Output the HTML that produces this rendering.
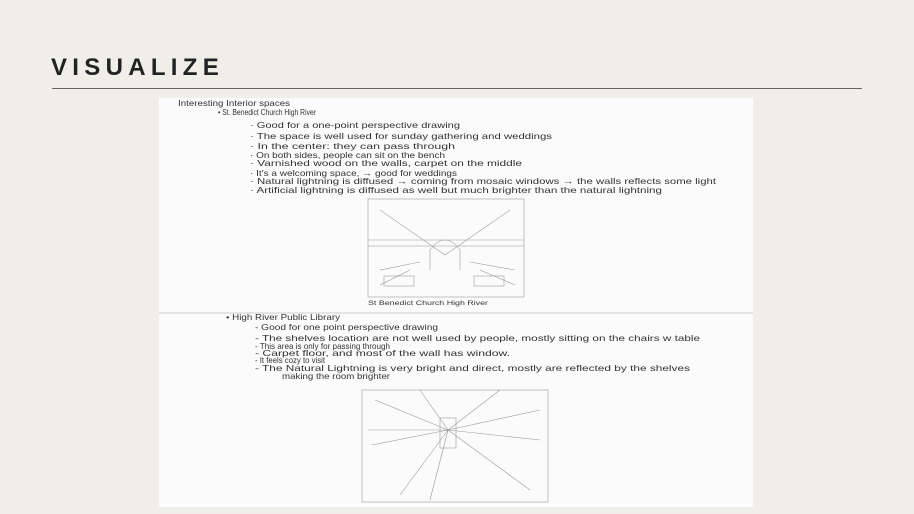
<!DOCTYPE html>
<html><head><meta charset="utf-8"><style>
html,body{margin:0;padding:0;background:#efeee9;width:914px;height:514px;overflow:hidden}
</style></head><body>
<svg width="914" height="514" xmlns="http://www.w3.org/2000/svg" style="position:absolute;left:0;top:0">
<rect width="914" height="514" fill="#efeee9"/>
<text x="51" y="75" font-family="Liberation Sans, sans-serif" font-weight="bold" font-size="24" letter-spacing="5.3" fill="#222">VISUALIZE</text>
<line x1="52" y1="88.5" x2="862" y2="88.5" stroke="#666" stroke-width="1"/>
<rect x="159" y="98" width="594" height="409" fill="#fbfbfb"/>
<line x1="159" y1="313" x2="753" y2="313" stroke="#ccc" stroke-width="1"/>
<g font-family="Liberation Sans, sans-serif" font-size="8.5" fill="#333" lengthAdjust="spacingAndGlyphs">
<text x="178" y="106" textLength="112" lengthAdjust="spacingAndGlyphs">Interesting Interior spaces</text>
<text x="218" y="115" textLength="98" lengthAdjust="spacingAndGlyphs">• St. Benedict Church High River</text>
<text x="250" y="128" textLength="210" lengthAdjust="spacingAndGlyphs">· Good for a one-point perspective drawing</text>
<text x="250" y="139" textLength="302" lengthAdjust="spacingAndGlyphs">· The space is well used for sunday gathering and weddings</text>
<text x="250" y="149" textLength="205" lengthAdjust="spacingAndGlyphs">· In the center: they can pass through</text>
<text x="250" y="158" textLength="195" lengthAdjust="spacingAndGlyphs">· On both sides, people can sit on the bench</text>
<text x="250" y="166" textLength="272" lengthAdjust="spacingAndGlyphs">· Varnished wood on the walls, carpet on the middle</text>
<text x="250" y="176" textLength="207" lengthAdjust="spacingAndGlyphs">· It's a welcoming space, → good for weddings</text>
<text x="250" y="184" textLength="466" lengthAdjust="spacingAndGlyphs">· Natural lightning is diffused → coming from mosaic windows → the walls reflects some light</text>
<text x="250" y="193" textLength="412" lengthAdjust="spacingAndGlyphs">· Artificial lightning is diffused as well but much brighter than the natural lightning</text>
<text x="368" y="305" font-size="6" textLength="120" lengthAdjust="spacingAndGlyphs">St Benedict Church High River</text>
<text x="226" y="320" textLength="114" lengthAdjust="spacingAndGlyphs">• High River Public Library</text>
<text x="255" y="330" textLength="183" lengthAdjust="spacingAndGlyphs">- Good for one point perspective drawing</text>
<text x="255" y="341" textLength="445" lengthAdjust="spacingAndGlyphs">- The shelves location are not well used by people, mostly sitting on the chairs w table</text>
<text x="255" y="349" textLength="135" lengthAdjust="spacingAndGlyphs">- This area is only for passing through</text>
<text x="255" y="356" textLength="255" lengthAdjust="spacingAndGlyphs">- Carpet floor, and most of the wall has window.</text>
<text x="255" y="363" textLength="70" lengthAdjust="spacingAndGlyphs">- It feels cozy to visit</text>
<text x="255" y="371" textLength="435" lengthAdjust="spacingAndGlyphs">- The Natural Lightning is very bright and direct, mostly are reflected by the shelves</text>
<text x="282" y="379" textLength="108" lengthAdjust="spacingAndGlyphs">making the room brighter</text>
</g>
<g stroke="#999" stroke-width="0.6" fill="none">
<rect x="368" y="199" width="156" height="98"/>
<line x1="368" y1="240" x2="524" y2="240"/><line x1="368" y1="246" x2="524" y2="246"/>
<path d="M430 270 L430 250 Q445 230 460 250 L460 270"/>
<path d="M380 270 L420 262 M380 285 L410 270 M470 262 L515 270 M480 270 L515 285"/>
<rect x="384" y="276" width="30" height="10"/><rect x="474" y="276" width="30" height="10"/>
<line x1="445" y1="255" x2="380" y2="210"/><line x1="445" y1="255" x2="510" y2="210"/>
<rect x="362" y="390" width="186" height="112"/>
<rect x="440" y="418" width="16" height="30"/>
<path d="M448 430 L375 400 M448 430 L368 430 M448 430 L372 445 M448 430 L400 495 M448 430 L430 500 M448 430 L500 390 M448 430 L540 410 M448 430 L540 440 M448 430 L530 490 M448 430 L420 390"/>
</g>
</svg>
</body></html>
